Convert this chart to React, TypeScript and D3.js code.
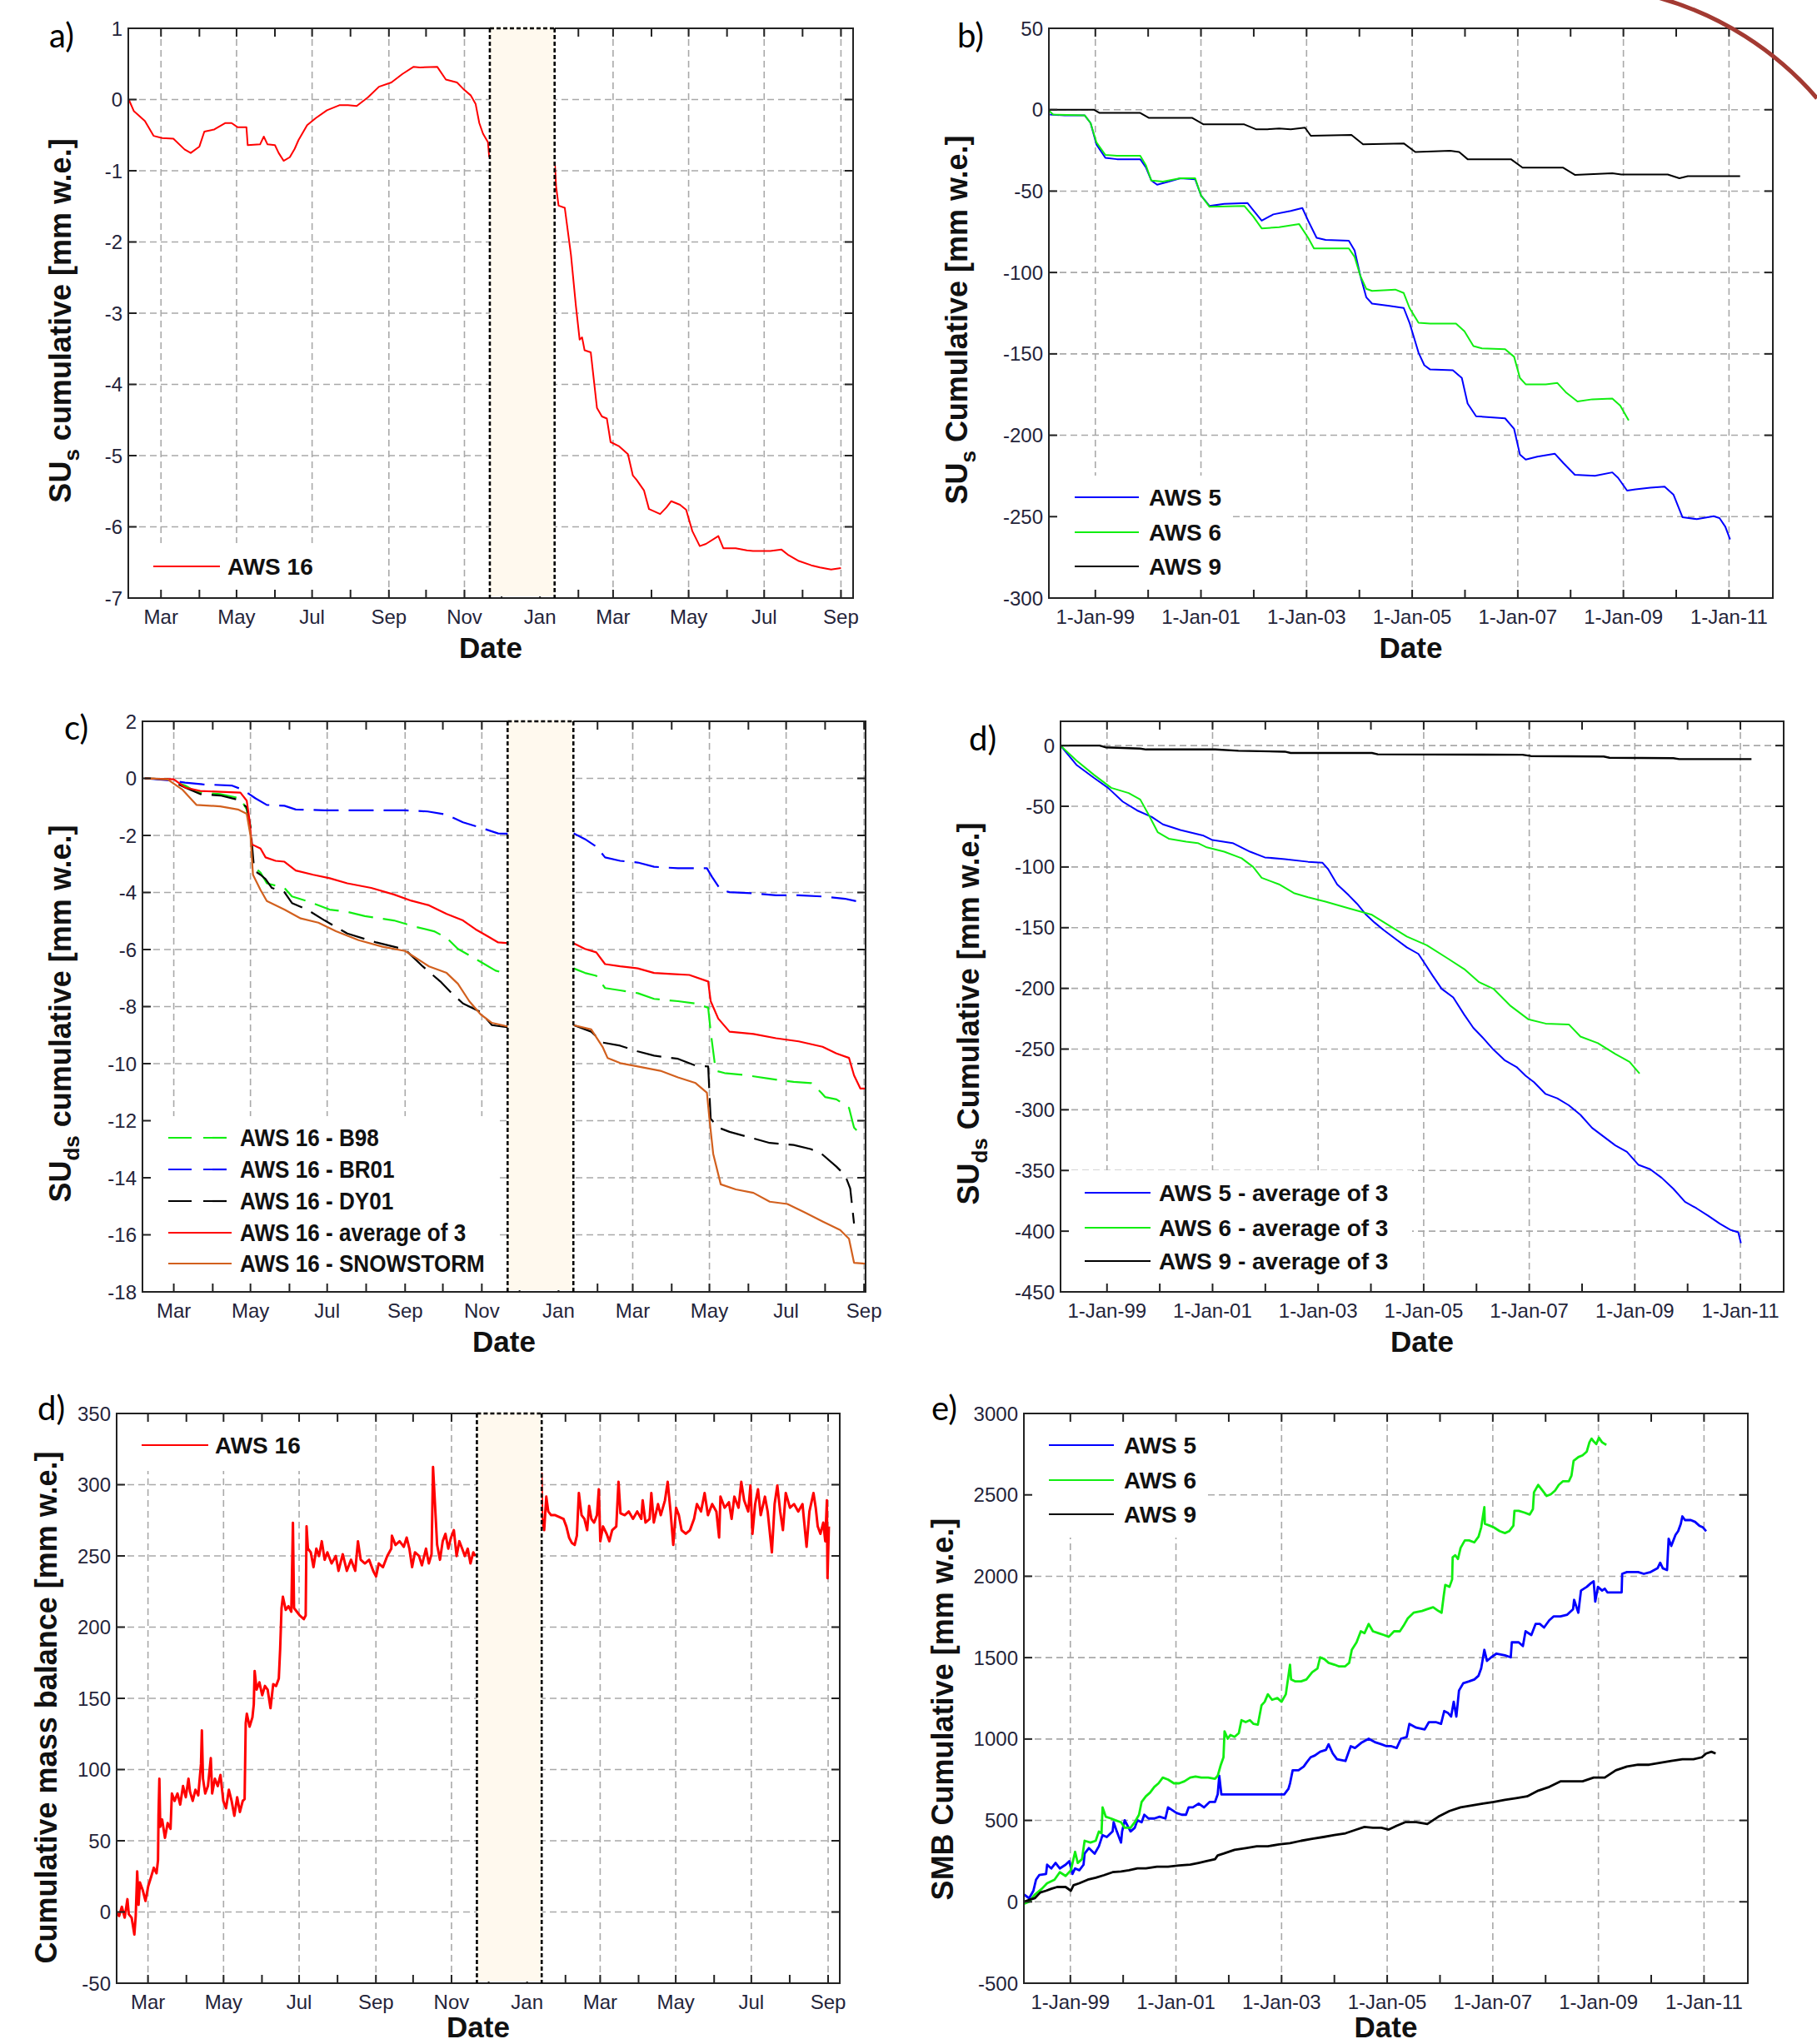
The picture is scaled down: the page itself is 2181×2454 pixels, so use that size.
import React from "react";
import * as d3 from "d3";

type Pt = [number, number];

// ================= Tick values & labels =================
const aYTicks = [1, 0, -1, -2, -3, -4, -5, -6, -7];
const bYTicks = [50, 0, -50, -100, -150, -200, -250, -300];
const cYTicks = [2, 0, -2, -4, -6, -8, -10, -12, -14, -16, -18];
const dYTicks = [0, -50, -100, -150, -200, -250, -300, -350, -400, -450];
const fYTicks = [350, 300, 250, 200, 150, 100, 50, 0, -50];
const eYTicks = [3000, 2500, 2000, 1500, 1000, 500, 0, -500];
const yearMajor = [1999, 2001, 2003, 2005, 2007, 2009, 2011];
const yearLabels = ["1-Jan-99", "1-Jan-01", "1-Jan-03", "1-Jan-05", "1-Jan-07", "1-Jan-09", "1-Jan-11"];
const yearMinor = [1999, 2000, 2001, 2002, 2003, 2004, 2005, 2006, 2007, 2008, 2009, 2010, 2011];

// Season panels: x = days since 1 Mar 2009. Multi-year panels: x = decimal year.
const dataGap: [number, number] = [265.5, 317.8];

// ================= a) SUs cumulative AWS 16 =================
const aws16Sus: Pt[] = [
  [-26, 0], [-22, -0.16], [-13, -0.3], [-6, -0.51], [1, -0.54], [10, -0.55], [19, -0.7], [24, -0.75], [31, -0.66],
  [35, -0.45], [43, -0.42], [52, -0.33], [57, -0.33], [62, -0.39], [69, -0.39], [70, -0.64], [80, -0.63], [83, -0.52],
  [86, -0.63], [92, -0.64], [95, -0.75], [99, -0.86], [104, -0.81], [108, -0.69], [111, -0.57], [118, -0.36],
  [125, -0.26], [134, -0.15], [144, -0.08], [151, -0.08], [158, -0.09], [167, 0.03], [176, 0.18], [186, 0.24],
  [195, 0.36], [204, 0.46], [209, 0.45], [223, 0.46], [230, 0.28], [239, 0.24], [244, 0.15], [250, 0.06],
  [254, -0.06], [257, -0.33], [260, -0.48], [264, -0.6], [265, -0.81],
  [318, -0.9], [319, -1.22], [321, -1.49], [326, -1.52], [331, -2.18], [335, -2.9], [338, -3.37], [340, -3.34],
  [342, -3.52], [347, -3.55], [352, -4.33], [356, -4.45], [360, -4.48], [363, -4.81], [370, -4.87], [377, -4.98],
  [381, -5.28], [384, -5.34], [390, -5.49], [394, -5.75], [403, -5.82], [408, -5.73], [412, -5.64], [419, -5.69],
  [424, -5.76], [429, -6.06], [435, -6.27], [440, -6.24], [450, -6.13], [454, -6.3], [464, -6.3], [473, -6.33],
  [478, -6.34], [492, -6.34], [501, -6.32], [506, -6.39], [515, -6.48], [525, -6.54], [532, -6.57], [541, -6.6], [549, -6.58],
];

// ================= b) SUs cumulative multi-year =================
const aws5Sus: Pt[] = [
  [1998.14, -3], [1998.42, -3.5], [1998.8, -3.5], [1998.91, -8.2], [1999.02, -21.3], [1999.19, -29.6], [1999.41, -30.4],
  [1999.85, -30.4], [1999.96, -35.6], [2000.06, -43.5], [2000.17, -46.1], [2000.39, -44.2], [2000.61, -42.1],
  [2000.89, -42.7], [2001.0, -52.6], [2001.16, -59.1], [2001.44, -57.8], [2001.88, -57.3], [2001.99, -61.7],
  [2002.15, -68.2], [2002.37, -64.3], [2002.7, -62.2], [2002.92, -60.4], [2003.03, -68.2], [2003.19, -78.7],
  [2003.36, -80], [2003.8, -80.5], [2003.91, -86.5], [2004.02, -102.2], [2004.13, -115.2], [2004.24, -119.1],
  [2004.57, -120.5], [2004.84, -121.8], [2004.95, -130.9], [2005.12, -149.2], [2005.23, -157], [2005.34, -159.6],
  [2005.77, -160.1], [2005.94, -164.8], [2006.05, -180.5], [2006.21, -188.3], [2006.76, -189.6], [2006.93, -196.1],
  [2007.04, -211.8], [2007.15, -214.9], [2007.37, -213.1], [2007.7, -211.3], [2007.86, -217], [2008.08, -224.3],
  [2008.46, -224.9], [2008.79, -222.8], [2008.9, -226.2], [2009.07, -234], [2009.23, -233.2], [2009.51, -232.2],
  [2009.78, -231.6], [2009.95, -236.6], [2010.12, -250.4], [2010.39, -251.5], [2010.71, -249.7], [2010.82, -250.9],
  [2010.93, -256.2], [2011.02, -264],
];
const aws6Sus: Pt[] = [
  [1998.12, -0.5], [1998.2, -3], [1998.8, -3.5], [1998.91, -8.2], [1999.02, -20], [1999.19, -27.8], [1999.41, -28.3],
  [1999.85, -28.3], [1999.96, -34.3], [2000.06, -43.5], [2000.28, -44.2], [2000.61, -42.1], [2000.89, -42.1],
  [2001.0, -52.6], [2001.16, -59.6], [2001.82, -59.1], [2001.99, -65.6], [2002.15, -72.9], [2002.48, -72.2],
  [2002.86, -70.3], [2003.03, -78.7], [2003.14, -85.2], [2003.8, -85.2], [2003.91, -90.4], [2004.02, -102.2],
  [2004.13, -110], [2004.24, -111.3], [2004.68, -110.5], [2004.84, -112.6], [2004.95, -121.8], [2005.12, -130.9],
  [2005.34, -131.4], [2005.83, -131.4], [2005.99, -136.1], [2006.16, -145.2], [2006.32, -146.6], [2006.76, -147.1],
  [2006.93, -151.8], [2007.04, -164.8], [2007.15, -168.7], [2007.53, -168.7], [2007.75, -167.9], [2007.92, -173.9],
  [2008.13, -179.2], [2008.41, -177.9], [2008.79, -177.4], [2008.94, -181.8], [2009.1, -190.9],
];
const aws9Sus: Pt[] = [
  [1998.12, 0], [1998.97, 0], [1999.08, -2], [1999.85, -2], [2000.01, -5], [2000.83, -5], [2001.05, -9], [2001.82, -9],
  [2002.04, -12], [2002.26, -12], [2002.48, -11.5], [2002.7, -12], [2002.97, -11], [2003.08, -16], [2003.85, -15.5],
  [2004.07, -21.3], [2004.84, -20.7], [2005.06, -26], [2005.72, -25.2], [2005.89, -26], [2006.05, -30.4],
  [2006.87, -30.4], [2007.09, -35.6], [2007.86, -35.6], [2008.08, -40], [2008.79, -39], [2008.96, -39.8],
  [2009.84, -39.8], [2010.06, -42.1], [2010.22, -40.8], [2011.21, -40.8],
];

// ================= c) SUds cumulative AWS 16 =================
const aws16B98: Pt[] = [
  [-23, 0], [-5, -0.03], [9, -0.25], [18, -0.48], [37, -0.55], [53, -0.7], [58, -1.09], [61, -1.7], [63, -3.07],
  [69, -3.3], [74, -3.68], [88, -3.84], [94, -4.14], [106, -4.3], [124, -4.6], [138, -4.68], [152, -4.83],
  [175, -4.98], [193, -5.21], [207, -5.36], [217, -5.59], [226, -5.98], [235, -6.2], [244, -6.43], [256, -6.74], [265, -6.85],
  [318, -6.66], [327, -6.82], [336, -6.92], [343, -7.35], [355, -7.43], [369, -7.53], [382, -7.73], [401, -7.81],
  [415, -7.89], [425, -8.04], [427, -8.88], [431, -10.25], [438, -10.33], [456, -10.41], [474, -10.53],
  [493, -10.64], [507, -10.68], [515, -11.02], [518, -11.17], [527, -11.25], [537, -11.55], [541, -12.24],
  [546, -12.47], [550, -12.47],
];
const aws16BR01: Pt[] = [
  [-23, 0], [-5, -0.06], [9, -0.15], [23, -0.21], [46, -0.25], [55, -0.4], [65, -0.7], [74, -0.93], [88, -0.96],
  [97, -1.09], [120, -1.12], [152, -1.12], [184, -1.12], [202, -1.16], [217, -1.27], [230, -1.54], [244, -1.73],
  [258, -1.93], [266, -1.94],
  [318, -1.93], [327, -2.13], [336, -2.39], [343, -2.77], [355, -2.89], [369, -2.95], [382, -3.1], [401, -3.15],
  [424, -3.15], [428, -3.45], [435, -3.91], [442, -3.99], [461, -4.03], [479, -4.1], [497, -4.1], [516, -4.14],
  [534, -4.22], [550, -4.37],
];
const aws16DY01: Pt[] = [
  [-23, 0], [-5, -0.03], [9, -0.32], [21, -0.55], [37, -0.6], [51, -0.75], [58, -1.01], [61, -1.7], [64, -3.23],
  [69, -3.38], [73, -3.53], [78, -3.84], [88, -3.99], [94, -4.37], [106, -4.6], [120, -4.98], [138, -5.44],
  [161, -5.75], [184, -6.0], [198, -6.59], [212, -7.12], [221, -7.53], [230, -7.89], [244, -8.19], [253, -8.65], [266, -8.73],
  [318, -8.65], [332, -8.88], [341, -9.26], [355, -9.37], [369, -9.57], [382, -9.72], [401, -9.83], [415, -10.07],
  [425, -10.1], [427, -11.93], [433, -12.24], [442, -12.39], [461, -12.62], [474, -12.78], [493, -12.85],
  [507, -13.0], [516, -13.19], [527, -13.61], [534, -13.92], [538, -14.38], [541, -15.6],
];
const aws16Avg3: Pt[] = [
  [-23, 0], [0, -0.03], [9, -0.32], [21, -0.44], [37, -0.47], [53, -0.5], [58, -0.78], [60, -1.39], [62, -2.31],
  [69, -2.46], [73, -2.77], [81, -2.89], [88, -2.92], [97, -3.23], [111, -3.38], [124, -3.5], [138, -3.68],
  [157, -3.84], [175, -4.07], [189, -4.29], [203, -4.45], [217, -4.75], [230, -4.98], [240, -5.29], [249, -5.52],
  [258, -5.75], [266, -5.78],
  [318, -5.78], [327, -5.98], [336, -6.1], [343, -6.51], [355, -6.59], [369, -6.66], [382, -6.82], [396, -6.86],
  [410, -6.89], [425, -7.12], [427, -7.81], [433, -8.42], [442, -8.88], [461, -8.96], [479, -9.11], [497, -9.22],
  [516, -9.41], [527, -9.64], [537, -9.8], [541, -10.41], [546, -10.87], [550, -10.87],
];
const aws16Snowstorm: Pt[] = [
  [-23, 0], [-5, -0.03], [7, -0.4], [18, -0.93], [37, -0.98], [51, -1.09], [58, -1.24], [61, -2.0], [63, -3.38],
  [69, -3.91], [74, -4.3], [88, -4.6], [101, -4.91], [115, -5.06], [129, -5.36], [147, -5.67], [166, -5.9],
  [184, -6.05], [203, -6.59], [217, -6.82], [226, -7.2], [235, -7.81], [244, -8.27], [253, -8.57], [266, -8.7],
  [318, -8.65], [332, -8.8], [341, -9.41], [345, -9.8], [355, -9.98], [369, -10.1], [387, -10.25], [401, -10.48],
  [415, -10.68], [424, -11.02], [426, -11.93], [429, -13.16], [435, -14.23], [447, -14.41], [461, -14.53],
  [474, -14.84], [488, -14.92], [502, -15.22], [516, -15.53], [530, -15.83], [537, -16.14], [541, -16.98], [550, -17.01],
];

// ================= d) SUds cumulative multi-year =================
const aws5Sud: Pt[] = [
  [1998.12, 0], [1998.42, -15.8], [1998.75, -26.5], [1999.02, -34.8], [1999.3, -46.2], [1999.57, -53.4],
  [1999.85, -58.8], [2000.06, -64.9], [2000.39, -69.5], [2000.83, -74.2], [2001.0, -77.8], [2001.38, -80.3],
  [2001.71, -87.4], [2001.99, -92.1], [2002.37, -93.5], [2002.81, -95.7], [2003.08, -96.4], [2003.19, -101.8],
  [2003.36, -114.3], [2003.58, -123.3], [2003.74, -130.4], [2003.91, -139.4], [2004.07, -145.8], [2004.24, -151.9],
  [2004.46, -159.1], [2004.68, -166.2], [2004.9, -171.6], [2005.01, -178.8], [2005.17, -189.5], [2005.34, -200.3],
  [2005.56, -207.5], [2005.77, -221.8], [2005.94, -232.5], [2006.1, -239.7], [2006.32, -250.4], [2006.54, -259.4],
  [2006.76, -264.8], [2006.93, -271.9], [2007.09, -277.3], [2007.31, -287], [2007.53, -290.6], [2007.75, -296.3],
  [2007.97, -304.2], [2008.19, -314.9], [2008.41, -322.1], [2008.63, -329.3], [2008.85, -334.6], [2009.07, -345.4],
  [2009.29, -349], [2009.51, -356.1], [2009.73, -365.1], [2009.95, -375.8], [2010.17, -381.2], [2010.39, -387.3],
  [2010.61, -393.8], [2010.82, -399.1], [2010.96, -400.9], [2011.01, -409.9],
];
const aws6Sud: Pt[] = [
  [1998.12, 0], [1998.42, -12.2], [1998.75, -24], [1999.08, -34.8], [1999.41, -39.1], [1999.63, -44.4],
  [1999.79, -57], [1999.96, -71.3], [2000.17, -76.7], [2000.5, -79.2], [2000.72, -80.3], [2000.89, -83.8],
  [2001.22, -87.4], [2001.55, -92.8], [2001.77, -100], [2001.93, -108.9], [2002.26, -114.3], [2002.54, -121.5],
  [2002.81, -125], [2003.14, -128.6], [2003.58, -134], [2004.02, -139.4], [2004.35, -148.3], [2004.68, -157.3],
  [2005.06, -164.5], [2005.45, -175.2], [2005.77, -184.2], [2006.05, -194.9], [2006.32, -200.3], [2006.65, -214.6],
  [2006.98, -225.4], [2007.31, -229], [2007.75, -229.7], [2007.97, -239.7], [2008.3, -245.1], [2008.63, -254],
  [2008.9, -260.5], [2009.09, -270.2],
];
const aws9Sud: Pt[] = [
  [1998.12, 0], [1998.86, 0], [1998.97, -1.4], [1999.63, -2.5], [1999.74, -3.2], [2001.05, -3.2], [2001.49, -4.3],
  [2002.37, -5], [2002.48, -6.1], [2004.02, -6.1], [2004.13, -7.2], [2006.87, -7.5], [2007.03, -8.6], [2008.41, -9],
  [2008.52, -10], [2009.73, -10.4], [2009.84, -11.1], [2011.21, -11.1],
];

// ================= bottom-left d) Cumulative mass balance AWS 16 =================
const aws16Mb: Pt[] = [
  [-25.6, -0.2], [-23.3, -2.8], [-21.1, 3.7], [-18.8, -4], [-16.6, 9], [-15.5, -1.5], [-13.2, -4], [-11, -15.8],
  [-9.9, -2.8], [-8.7, 28.5], [-7.6, 5], [-6.5, 20.7], [-4.3, 15.5], [-2, 7.7], [0.2, 18.1], [2.5, 24.6], [4.7, 31.1],
  [6.9, 27.2], [8.1, 36.3], [8.5, 67.6], [9.2, 93.6], [9.9, 59.8], [11.4, 65], [13.7, 52], [15.9, 62.4], [18.2, 58.4],
  [19.3, 83.2], [21.5, 78], [23.8, 83.2], [26, 75.4], [28.3, 88.4], [30.5, 80.6], [32.7, 93.6], [33.9, 84.5],
  [36.1, 78], [38.3, 85.8], [40.6, 81.9], [42.8, 104], [43.5, 127.5], [44.4, 93.6], [46.2, 83.2], [48.4, 88.4],
  [50.7, 108], [51.8, 83.2], [54, 93.6], [56.3, 88.4], [58.5, 96.2], [60.8, 78], [63, 72.8], [65.3, 85.8], [67.5, 78],
  [69.7, 67.6], [72, 80.6], [74.2, 70.2], [76.5, 78], [78, 79.3], [78.9, 132.7], [79.8, 139.2], [82, 130.1],
  [84.3, 136.6], [85.4, 145.7], [86.1, 169.2], [87.7, 156.1], [89.9, 161.3], [92.2, 152.2], [94.4, 158.7],
  [96.6, 156.1], [98.9, 143.1], [101.1, 160], [103.4, 158.7], [105.6, 163.9], [106.7, 184.8], [107.8, 213.4],
  [108.9, 221.3], [111.2, 212.1], [113.4, 214.7], [115.7, 210.8], [117, 273.3], [117.9, 213.4], [120.2, 210.8],
  [122.4, 208.2], [125.8, 205.6], [127.3, 208.2], [128, 270.7], [129.1, 255.1], [131.4, 252.5], [133.6, 242.1],
  [135.9, 255.1], [138.1, 249.9], [140.3, 260.3], [142.6, 247.3], [144.8, 252.5], [148.2, 244.7], [151.6, 249.9],
  [153.8, 239.5], [157.2, 251.2], [160.5, 239.5], [163.9, 247.3], [167.3, 239.5], [169.5, 260.3], [171.7, 247.3],
  [175.1, 244.7], [178.5, 247.3], [181.8, 239.5], [184.1, 235.6], [186.3, 244.7], [189.7, 242.1], [193.1, 249.9],
  [196.4, 255.1], [196.9, 264.2], [199.8, 257.7], [203.1, 260.3], [206.5, 256.4], [208.8, 262.9], [211, 255.1],
  [213.2, 242.1], [215.5, 252.5], [218.8, 249.9], [221.1, 243.4], [224.4, 255.1], [226.7, 244.7], [228.9, 251.2],
  [230.1, 312.4], [231.2, 294.2], [232.3, 276], [233.4, 257.7], [235.7, 247.3], [237.9, 260.3], [240.1, 265.5],
  [242.4, 255.1], [244.6, 262.9], [246.9, 268.1], [249.1, 249.9], [251.3, 260.3], [253.6, 255.1], [255.8, 249.9],
  [258.1, 255.1], [260.3, 244.7], [262.6, 252.5], [264.1, 249.9],
  [317.5, 308.5], [318.2, 276], [319.8, 268.1], [321.5, 291.6], [323.1, 281.2], [325.4, 278.6], [328.7, 278.6],
  [332.1, 277.3], [335.4, 276], [337.7, 270.7], [339.9, 262.9], [342.2, 259], [344.4, 257.7], [346.2, 264.2],
  [347.8, 294.2], [350, 278.6], [352.3, 276], [354.5, 268.1], [356.1, 285.1], [357.9, 276], [360.1, 273.4],
  [362.4, 278.6], [363.9, 296.8], [365.1, 260.3], [367.3, 270.7], [370.2, 265.5], [372.4, 260.3], [374.7, 268.1],
  [378, 270.7], [379.8, 302], [381.4, 279.9], [384.8, 278.6], [388.1, 281.2], [391.5, 276], [394.9, 281.2],
  [398.2, 276], [399.3, 289], [401.6, 273.4], [404.9, 276], [406.3, 294.2], [408.3, 273.4], [411.7, 286.4],
  [413.9, 278.6], [417.3, 289], [419.5, 302], [421.8, 281.2], [424, 257.7], [426.3, 283.8], [428.5, 278.6],
  [430.7, 268.1], [434.1, 265.5], [437.5, 268.1], [440.8, 276], [443.1, 286.4], [446.4, 281.2], [449.3, 294.2],
  [452, 278.6], [455.4, 286.4], [458.8, 281.2], [461, 262.9], [462.1, 291.6], [465.5, 283.8], [468.9, 287.7],
  [471.1, 276], [473.3, 291.6], [476.7, 283.8], [478.9, 302], [481.2, 289], [484.5, 281.2], [486.3, 299.4],
  [487.9, 265.5], [490.1, 286.4], [492.4, 296.8], [494.6, 278.6], [498, 291.6], [500.2, 281.2], [503.6, 252.5],
  [505.8, 286.4], [508, 299.4], [510.3, 281.2], [512.5, 268.1], [514.8, 294.2], [518.2, 283.8], [521.5, 286.4],
  [524.9, 281.2], [528.3, 286.4], [531.6, 256.4], [533.9, 281.2], [537.2, 294.2], [539, 283.8], [540.6, 270.7],
  [542.8, 265.5], [545.1, 273.4], [546.7, 260.3], [548, 289], [548.5, 234.3], [549.6, 270.7],
];

// ================= e) SMB cumulative multi-year =================
const aws5Smb: Pt[] = [
  [1998.12, 45], [1998.22, 22], [1998.3, 68], [1998.35, 136], [1998.41, 164], [1998.54, 171], [1998.56, 228],
  [1998.64, 205], [1998.72, 239], [1998.8, 205], [1998.91, 228], [1998.98, 250], [1999.04, 171], [1999.09, 205],
  [1999.17, 194], [1999.25, 228], [1999.27, 296], [1999.35, 330], [1999.46, 296], [1999.54, 341], [1999.61, 410],
  [1999.69, 398], [1999.8, 432], [1999.82, 489], [1999.88, 432], [1999.96, 364], [1999.98, 432], [2000.03, 501],
  [2000.14, 432], [2000.22, 455], [2000.27, 501], [2000.35, 489], [2000.4, 535], [2000.48, 512], [2000.59, 512],
  [2000.69, 523], [2000.8, 512], [2000.85, 580], [2001.01, 546], [2001.11, 535], [2001.19, 535], [2001.24, 580],
  [2001.32, 580], [2001.43, 603], [2001.53, 580], [2001.64, 614], [2001.74, 614], [2001.79, 660], [2001.82, 774],
  [2001.86, 660], [2003.05, 660], [2003.13, 694], [2003.16, 728], [2003.21, 808], [2003.32, 808], [2003.42, 831],
  [2003.47, 854], [2003.55, 888], [2003.63, 899], [2003.73, 922], [2003.84, 933], [2003.89, 968], [2003.97, 911],
  [2004.05, 876], [2004.21, 865], [2004.26, 911], [2004.31, 956], [2004.39, 945], [2004.52, 979], [2004.65, 1002],
  [2004.78, 979], [2004.89, 968], [2004.99, 956], [2005.08, 956], [2005.18, 945], [2005.26, 1002], [2005.37, 1013],
  [2005.42, 1093], [2005.55, 1070], [2005.71, 1059], [2005.79, 1104], [2005.92, 1104], [2006.02, 1093],
  [2006.08, 1172], [2006.15, 1161], [2006.21, 1138], [2006.26, 1229], [2006.31, 1138], [2006.36, 1298],
  [2006.44, 1343], [2006.55, 1354], [2006.65, 1366], [2006.73, 1389], [2006.78, 1434], [2006.84, 1548],
  [2006.89, 1480], [2006.97, 1502], [2007.07, 1525], [2007.23, 1514], [2007.34, 1502], [2007.36, 1594],
  [2007.49, 1594], [2007.57, 1571], [2007.62, 1662], [2007.73, 1639], [2007.81, 1707], [2007.89, 1707],
  [2007.97, 1685], [2008.07, 1730], [2008.15, 1753], [2008.28, 1753], [2008.41, 1764], [2008.52, 1798],
  [2008.54, 1855], [2008.62, 1776], [2008.67, 1912], [2008.78, 1935], [2008.86, 1958], [2008.91, 1969],
  [2008.94, 1844], [2008.99, 1935], [2009.07, 1912], [2009.12, 1924], [2009.17, 1901], [2009.44, 1901],
  [2009.45, 2015], [2009.54, 2026], [2009.65, 2026], [2009.75, 2026], [2009.86, 2015], [2009.99, 2026],
  [2010.12, 2049], [2010.17, 2083], [2010.22, 2049], [2010.3, 2038], [2010.33, 2231], [2010.38, 2186],
  [2010.46, 2254], [2010.51, 2277], [2010.56, 2322], [2010.59, 2368], [2010.64, 2345], [2010.75, 2345],
  [2010.83, 2334], [2010.91, 2311], [2010.98, 2300], [2011.04, 2277],
];
const aws6Smb: Pt[] = [
  [1998.12, -12], [1998.22, 0], [1998.33, 45], [1998.46, 80], [1998.56, 114], [1998.7, 136], [1998.8, 182],
  [1998.91, 159], [1999.01, 194], [1999.09, 307], [1999.14, 239], [1999.22, 262], [1999.27, 375], [1999.38, 364],
  [1999.48, 375], [1999.54, 432], [1999.59, 421], [1999.61, 580], [1999.67, 523], [1999.77, 512], [1999.85, 501],
  [1999.96, 489], [2000.03, 455], [2000.14, 455], [2000.22, 489], [2000.3, 535], [2000.35, 614], [2000.43, 648],
  [2000.51, 671], [2000.59, 706], [2000.67, 728], [2000.75, 763], [2000.85, 751], [2000.96, 728], [2001.06, 728],
  [2001.16, 740], [2001.27, 763], [2001.37, 770], [2001.48, 763], [2001.61, 763], [2001.74, 756], [2001.79, 774],
  [2001.85, 842], [2001.9, 888], [2001.92, 1047], [2001.98, 1002], [2002.03, 1025], [2002.11, 1013],
  [2002.19, 1036], [2002.24, 1116], [2002.32, 1104], [2002.4, 1116], [2002.47, 1093], [2002.55, 1088],
  [2002.62, 1207], [2002.68, 1229], [2002.74, 1275], [2002.82, 1241], [2002.92, 1252], [2003.0, 1229],
  [2003.08, 1275], [2003.13, 1389], [2003.16, 1457], [2003.18, 1366], [2003.26, 1354], [2003.37, 1354],
  [2003.47, 1366], [2003.58, 1411], [2003.68, 1434], [2003.73, 1502], [2003.81, 1491], [2003.89, 1468],
  [2004.0, 1457], [2004.09, 1446], [2004.2, 1446], [2004.28, 1468], [2004.33, 1548], [2004.42, 1594],
  [2004.5, 1662], [2004.57, 1650], [2004.65, 1707], [2004.73, 1662], [2004.84, 1650], [2004.94, 1639],
  [2005.03, 1628], [2005.13, 1662], [2005.24, 1662], [2005.31, 1696], [2005.39, 1741], [2005.5, 1776],
  [2005.66, 1787], [2005.76, 1798], [2005.87, 1810], [2005.97, 1787], [2006.03, 1776], [2006.07, 1878],
  [2006.1, 1947], [2006.18, 1935], [2006.23, 1981], [2006.24, 2117], [2006.29, 2129], [2006.34, 2106],
  [2006.39, 2174], [2006.47, 2220], [2006.55, 2220], [2006.65, 2208], [2006.73, 2243], [2006.78, 2300],
  [2006.84, 2425], [2006.85, 2322], [2006.94, 2311], [2007.02, 2300], [2007.13, 2277], [2007.23, 2265],
  [2007.31, 2277], [2007.39, 2311], [2007.41, 2402], [2007.49, 2402], [2007.6, 2391], [2007.7, 2379],
  [2007.76, 2413], [2007.78, 2516], [2007.86, 2561], [2007.94, 2527], [2008.02, 2493], [2008.1, 2504],
  [2008.18, 2527], [2008.25, 2561], [2008.33, 2584], [2008.44, 2584], [2008.49, 2618], [2008.53, 2709],
  [2008.62, 2732], [2008.7, 2743], [2008.78, 2766], [2008.83, 2823], [2008.87, 2846], [2008.91, 2828],
  [2008.96, 2812], [2009.01, 2851], [2009.07, 2823], [2009.15, 2807],
];
const aws9Smb: Pt[] = [
  [1998.12, 0], [1998.22, 12], [1998.33, 23], [1998.43, 57], [1998.54, 68], [1998.64, 80], [1998.75, 91],
  [1998.91, 91], [1999.01, 68], [1999.06, 102], [1999.17, 114], [1999.33, 136], [1999.48, 148], [1999.64, 164],
  [1999.8, 182], [1999.96, 186], [2000.11, 194], [2000.27, 205], [2000.43, 205], [2000.64, 216], [2000.85, 216],
  [2001.06, 223], [2001.27, 228], [2001.43, 239], [2001.58, 250], [2001.74, 262], [2001.79, 285], [2001.9, 296],
  [2002.11, 319], [2002.32, 330], [2002.53, 341], [2002.74, 341], [2002.95, 353], [2003.16, 360], [2003.37, 375],
  [2003.58, 387], [2003.79, 398], [2004.0, 410], [2004.21, 421], [2004.42, 444], [2004.57, 460], [2004.73, 455],
  [2004.89, 455], [2005.03, 444], [2005.18, 467], [2005.34, 489], [2005.55, 489], [2005.76, 478], [2005.97, 523],
  [2006.18, 558], [2006.39, 580], [2006.6, 592], [2006.81, 603], [2007.02, 614], [2007.23, 626], [2007.44, 637],
  [2007.65, 648], [2007.86, 683], [2008.07, 706], [2008.28, 740], [2008.49, 740], [2008.7, 740], [2008.91, 763],
  [2009.12, 763], [2009.33, 808], [2009.54, 831], [2009.75, 842], [2009.96, 842], [2010.17, 854], [2010.38, 865],
  [2010.59, 876], [2010.8, 876], [2010.96, 888], [2011.04, 911], [2011.14, 922], [2011.22, 911],
];

// ================= styling =================
const FONT = "'Liberation Sans', Arial, Helvetica, sans-serif";
const TICK_TXT = "#24243a";
const GRID = "#a9a9a9";
const FRAME = "#222";
const RED = "#ff0000";
const BLUE = "#0000ff";
const GREEN = "#11ee11";
const BLACK = "#000000";
const ORANGE = "#d2601e";
const DASH = "30,12";

const DAY = 864e5;
const BASE = Date.UTC(2009, 2, 1);
const dayToDate = (d: number) => new Date(BASE + d * DAY);

interface Series { data: Pt[]; color: string; width: number; dash?: string; }
interface LegendItem { label: string; color: string; dash?: string; }
interface Cfg {
  id: string;
  box: { x0: number; x1: number; y0: number; y1: number };
  kind: "season" | "years";
  xDomain: [number, number];
  yDomain: [number, number];
  yTicks: number[];
  series: Series[];
  gap?: [number, number];
  legend: { items: LegendItem[]; lx0: number; lx1: number; tx: number; ys: number[]; bold: boolean; size: number; sx: number; bg: [number, number, number, number] };
  ylabel: { parts: string[]; x: number; cy: number };
  letter: { text: string; x: number; y: number };
  dateY?: number;
}

function Panel({ cfg }: { cfg: Cfg }) {
  const { box, kind, xDomain, yDomain, yTicks, series, gap, legend, ylabel, letter, id } = cfg;
  const ys = d3.scaleLinear().domain(yDomain).range([box.y1, box.y0]);
  let xPos: (v: number) => number;
  const majorX: { pos: number; label: string }[] = [];
  const minorX: number[] = [];
  if (kind === "season") {
    const xs = d3.scaleUtc().domain([dayToDate(xDomain[0]), dayToDate(xDomain[1])]).range([box.x0, box.x1]);
    xPos = (v: number) => xs(dayToDate(v));
    const months = d3.utcMonth.range(dayToDate(xDomain[0]), dayToDate(xDomain[1]));
    const fmt = d3.utcFormat("%b");
    months.forEach((m) => {
      const p = xs(m);
      minorX.push(p);
      if (m.getUTCMonth() % 2 === 0) majorX.push({ pos: p, label: fmt(m) });
    });
  } else {
    const xs = d3.scaleLinear().domain(xDomain).range([box.x0, box.x1]);
    xPos = (v: number) => xs(v);
    yearMinor.forEach((y) => minorX.push(xs(y)));
    yearMajor.forEach((y, i) => majorX.push({ pos: xs(y), label: yearLabels[i] }));
  }
  const line = d3.line<Pt>().x((p) => xPos(p[0])).y((p) => ys(p[1]));
  const mid = gap ? (gap[0] + gap[1]) / 2 : Infinity;
  const segs = (d: Pt[]) => (gap ? [d.filter((p) => p[0] < mid), d.filter((p) => p[0] >= mid)] : [d]);
  const W = box.x1 - box.x0;
  const H = box.y1 - box.y0;
  const TL = 10;
  const clipId = `clip-${id}`;
  const gx0 = gap ? xPos(gap[0]) : 0;
  const gx1 = gap ? xPos(gap[1]) : 0;
  const [ys0, ys1] = [ys.range()[1], ys.range()[0]];
  return (
    <g>
      <defs>
        <clipPath id={clipId}>
          <rect x={box.x0} y={box.y0} width={W} height={H} />
        </clipPath>
      </defs>
      {/* grid */}
      <g stroke={GRID} strokeWidth={1.6} strokeDasharray="8,5">
        {majorX.map((t, i) => (
          <line key={"gx" + i} x1={t.pos} x2={t.pos} y1={box.y0} y2={box.y1} />
        ))}
        {yTicks
          .filter((v) => Math.abs(ys(v) - ys0) > 1 && Math.abs(ys(v) - ys1) > 1)
          .map((v, i) => (
            <line key={"gy" + i} x1={box.x0} x2={box.x1} y1={ys(v)} y2={ys(v)} />
          ))}
      </g>
      {/* legend background */}
      <rect x={legend.bg[0]} y={legend.bg[1]} width={legend.bg[2]} height={legend.bg[3]} fill="#fff" />
      {/* data */}
      <g clipPath={`url(#${clipId})`} fill="none" strokeLinejoin="round">
        {series.map((s, i) =>
          segs(s.data).map((sd, j) => (
            <path key={`s${i}-${j}`} d={line(sd) || ""} stroke={s.color} strokeWidth={s.width} strokeDasharray={s.dash} />
          ))
        )}
      </g>
      {/* frame and ticks */}
      <rect x={box.x0} y={box.y0} width={W} height={H} fill="none" stroke={FRAME} strokeWidth={2} />
      <g stroke={FRAME} strokeWidth={2}>
        {minorX.map((p, i) => (
          <g key={"tx" + i}>
            <line x1={p} x2={p} y1={box.y1} y2={box.y1 - TL} />
            <line x1={p} x2={p} y1={box.y0} y2={box.y0 + TL} />
          </g>
        ))}
        {yTicks.map((v, i) => (
          <g key={"ty" + i}>
            <line x1={box.x0} x2={box.x0 + TL} y1={ys(v)} y2={ys(v)} />
            <line x1={box.x1} x2={box.x1 - TL} y1={ys(v)} y2={ys(v)} />
          </g>
        ))}
      </g>
      {/* shaded data gap */}
      {gap && (
        <g>
          <rect x={gx0} y={box.y0 - 1.5} width={gx1 - gx0} height={H - 0.5} fill="#fff9ee" />
          <g stroke="#000" strokeWidth={2.6} strokeDasharray="5,3">
            <line x1={gx0} x2={gx0} y1={box.y0} y2={box.y1} />
            <line x1={gx1} x2={gx1} y1={box.y0} y2={box.y1} />
            <line x1={gx0} x2={gx1} y1={box.y0} y2={box.y0} />
          </g>
        </g>
      )}
      {/* legend */}
      {legend.items.map((it, i) => (
        <g key={"lg" + i}>
          <line x1={legend.lx0} x2={legend.lx1} y1={legend.ys[i]} y2={legend.ys[i]} stroke={it.color} strokeWidth={2.2} strokeDasharray={it.dash} />
          <text
            transform={`translate(${legend.tx},${legend.ys[i]}) scale(${legend.sx},1)`}
            dominantBaseline="central"
            fontFamily={FONT}
            fontSize={legend.size}
            fontWeight={legend.bold ? "bold" : "normal"}
            fill="#111"
          >
            {it.label}
          </text>
        </g>
      ))}
      {/* tick labels */}
      <g fontFamily={FONT} fontSize={24} fill={TICK_TXT}>
        {yTicks.map((v, i) => (
          <text key={"yl" + i} x={box.x0 - 7} y={ys(v)} textAnchor="end" dominantBaseline="central">
            {String(v)}
          </text>
        ))}
        {majorX.map((t, i) => (
          <text key={"xl" + i} x={t.pos} y={box.y1 + 31} textAnchor="middle">
            {t.label}
          </text>
        ))}
      </g>
      {/* axis titles */}
      <text x={(box.x0 + box.x1) / 2} y={cfg.dateY ?? box.y1 + 72} textAnchor="middle" fontFamily={FONT} fontSize={35} fontWeight="bold" fill="#111">
        Date
      </text>
      <text
        transform={`translate(${ylabel.x},${ylabel.cy}) rotate(-90)`}
        textAnchor="middle"
        fontFamily={FONT}
        fontSize={36}
        fontWeight="bold"
        fill="#111"
      >
        {ylabel.parts.length === 1 ? (
          ylabel.parts[0]
        ) : (
          <>
            {ylabel.parts[0]}
            <tspan dy={10} fontSize={26}>{ylabel.parts[1]}</tspan>
            <tspan dy={-10}>{ylabel.parts[2]}</tspan>
          </>
        )}
      </text>
      <text x={letter.x} y={letter.y} fontFamily="Lato, 'Open Sans', sans-serif" fontSize={40} fill="#000">
        {letter.text}
      </text>
    </g>
  );
}

const panels: Cfg[] = [
  {
    id: "a",
    box: { x0: 154, x1: 1024, y0: 34, y1: 718 },
    kind: "season",
    xDomain: [-26.4, 558.8],
    yDomain: [-7, 1],
    yTicks: aYTicks,
    series: [{ data: aws16Sus, color: RED, width: 2 }],
    gap: dataGap,
    legend: { items: [{ label: "AWS 16", color: RED }], lx0: 184, lx1: 264, tx: 273, ys: [680], bold: true, size: 28, sx: 1, bg: [156, 652, 224, 64] },
    ylabel: { parts: ["SU", "s", " cumulative [mm w.e.]"], x: 85, cy: 385 },
    letter: { text: "a)", x: 59, y: 57 },
  },
  {
    id: "b",
    box: { x0: 1259, x1: 2128, y0: 34, y1: 718 },
    kind: "years",
    xDomain: [1998.12, 2011.83],
    yDomain: [-300, 50],
    yTicks: bYTicks,
    series: [
      { data: aws5Sus, color: BLUE, width: 2 },
      { data: aws6Sus, color: GREEN, width: 2 },
      { data: aws9Sus, color: BLACK, width: 2 },
    ],
    legend: {
      items: [{ label: "AWS 5", color: BLUE }, { label: "AWS 6", color: GREEN }, { label: "AWS 9", color: BLACK }],
      lx0: 1290, lx1: 1367, tx: 1379, ys: [597, 639, 680], bold: true, size: 28, sx: 1, bg: [1261, 571, 215, 146],
    },
    ylabel: { parts: ["SU", "s", " Cumulative [mm w.e.]"], x: 1161, cy: 384 },
    letter: { text: "b)", x: 1149, y: 57 },
  },
  {
    id: "c",
    box: { x0: 171, x1: 1039, y0: 866, y1: 1551 },
    kind: "season",
    xDomain: [-24.9, 550.2],
    yDomain: [-18, 2],
    yTicks: cYTicks,
    series: [
      { data: aws16B98, color: GREEN, width: 2.2, dash: DASH },
      { data: aws16BR01, color: BLUE, width: 2.2, dash: DASH },
      { data: aws16DY01, color: BLACK, width: 2.2, dash: DASH },
      { data: aws16Avg3, color: RED, width: 2.2 },
      { data: aws16Snowstorm, color: ORANGE, width: 2.2 },
    ],
    gap: dataGap,
    legend: {
      items: [
        { label: "AWS 16 - B98", color: GREEN, dash: "28,14" },
        { label: "AWS 16 - BR01", color: BLUE, dash: "28,14" },
        { label: "AWS 16 - DY01", color: BLACK, dash: "28,14" },
        { label: "AWS 16 - average of 3", color: RED },
        { label: "AWS 16 - SNOWSTORM", color: ORANGE },
      ],
      lx0: 202, lx1: 278, tx: 288, ys: [1366, 1404, 1442, 1480, 1517], bold: true, size: 29, sx: 0.9, bg: [173, 1340, 422, 210],
    },
    ylabel: { parts: ["SU", "ds", " cumulative [mm w.e.]"], x: 85, cy: 1217 },
    letter: { text: "c)", x: 77, y: 888 },
  },
  {
    id: "d",
    box: { x0: 1273, x1: 2141, y0: 866, y1: 1551 },
    kind: "years",
    xDomain: [1998.12, 2011.82],
    yDomain: [-450, 20],
    yTicks: dYTicks,
    series: [
      { data: aws5Sud, color: BLUE, width: 2 },
      { data: aws6Sud, color: GREEN, width: 2 },
      { data: aws9Sud, color: BLACK, width: 2.4 },
    ],
    legend: {
      items: [
        { label: "AWS 5 - average of 3", color: BLUE },
        { label: "AWS 6 - average of 3", color: GREEN },
        { label: "AWS 9 - average of 3", color: BLACK },
      ],
      lx0: 1302, lx1: 1381, tx: 1391, ys: [1432, 1474, 1514], bold: true, size: 28, sx: 1, bg: [1275, 1405, 420, 145],
    },
    ylabel: { parts: ["SU", "ds", " Cumulative [mm w.e.]"], x: 1175, cy: 1217 },
    letter: { text: "d)", x: 1163, y: 901 },
  },
  {
    id: "f",
    box: { x0: 140, x1: 1008, y0: 1697, y1: 2381 },
    kind: "season",
    xDomain: [-25.3, 558.4],
    yDomain: [-50, 350],
    yTicks: fYTicks,
    series: [{ data: aws16Mb, color: RED, width: 3 }],
    gap: dataGap,
    legend: { items: [{ label: "AWS 16", color: RED }], lx0: 170, lx1: 250, tx: 258, ys: [1735], bold: true, size: 28, sx: 1, bg: [142, 1699, 230, 67] },
    ylabel: { parts: ["Cumulative mass balance [mm w.e.]"], x: 68, cy: 2050 },
    letter: { text: "d)", x: 45, y: 1705 },
    dateY: 2446,
  },
  {
    id: "e",
    box: { x0: 1229, x1: 2098, y0: 1697, y1: 2381 },
    kind: "years",
    xDomain: [1998.12, 2011.83],
    yDomain: [-500, 3000],
    yTicks: eYTicks,
    series: [
      { data: aws5Smb, color: BLUE, width: 2.8 },
      { data: aws6Smb, color: GREEN, width: 2.8 },
      { data: aws9Smb, color: BLACK, width: 2.8 },
    ],
    legend: {
      items: [{ label: "AWS 5", color: BLUE }, { label: "AWS 6", color: GREEN }, { label: "AWS 9", color: BLACK }],
      lx0: 1259, lx1: 1337, tx: 1349, ys: [1735, 1777, 1818], bold: true, size: 28, sx: 1, bg: [1231, 1699, 216, 147],
    },
    ylabel: { parts: ["SMB Cumulative [mm w.e.]"], x: 1144, cy: 2052 },
    letter: { text: "e)", x: 1118, y: 1705 },
    dateY: 2446,
  },
];

export default function App() {
  return (
    <svg
      width={2181}
      height={2454}
      viewBox="0 0 2181 2454"
      style={{ position: "absolute", left: 0, top: 0, background: "#fff" }}
    >
      <rect x={0} y={0} width={2181} height={2454} fill="#fff" />
      {panels.map((p) => (
        <Panel key={p.id} cfg={p} />
      ))}
      <path d="M 1990 -3 A 392 392 0 0 1 2181 118" fill="none" stroke="#a33a32" strokeWidth={5} />
    </svg>
  );
}
